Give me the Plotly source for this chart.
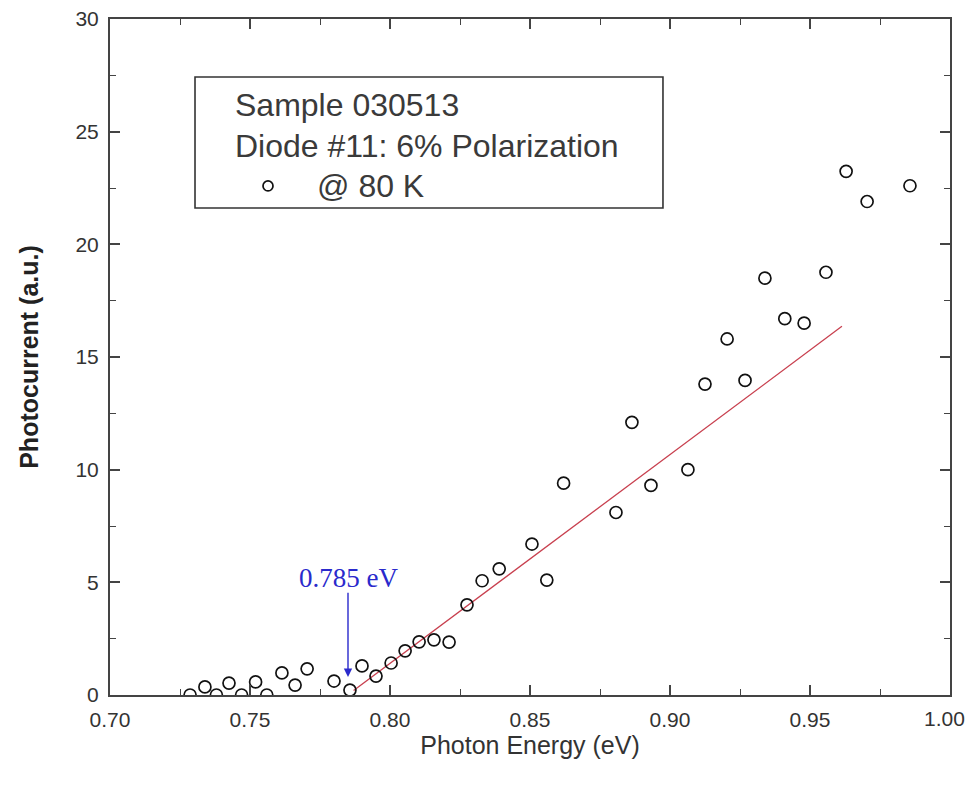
import plotly.graph_objects as go

# Measured data (photon energy in eV, photocurrent in a.u.)
energy = [0.7286, 0.7339, 0.7380, 0.7425, 0.7470, 0.7520, 0.7560, 0.7614, 0.7661,
          0.7704, 0.7800, 0.7857, 0.7900, 0.7950, 0.8004, 0.8054, 0.8104, 0.8157,
          0.8211, 0.8275, 0.8329, 0.8390, 0.8507, 0.8560, 0.8620, 0.8807, 0.8864,
          0.8932, 0.9064, 0.9125, 0.9204, 0.9268, 0.9339, 0.9410, 0.9479, 0.9557,
          0.9629, 0.9704, 0.9857]
photocurrent = [0.0, 0.36, 0.0, 0.53, 0.0, 0.58, 0.0, 0.98, 0.44,
                1.16, 0.62, 0.22, 1.29, 0.84, 1.42, 1.96, 2.36, 2.45,
                2.35, 4.0, 5.07, 5.6, 6.7, 5.1, 9.4, 8.1, 12.1,
                9.3, 10.0, 13.8, 15.8, 13.96, 18.5, 16.7, 16.5, 18.76,
                23.24, 21.9, 22.6]

# Linear fit line
fit_x = [0.787, 0.9614]
fit_y = [0.2, 16.36]

# Onset annotation
onset_energy = 0.785
onset_label = "0.785 eV"

legend_lines = ["Sample 030513", "Diode #11: 6% Polarization", "@ 80 K"]

x_ticks = [0.70, 0.75, 0.80, 0.85, 0.90, 0.95, 1.00]
y_ticks = [0, 5, 10, 15, 20, 25, 30]

SANS = "Liberation Sans, Arial, sans-serif"

fig = go.Figure()
fig.add_trace(go.Scatter(
    x=fit_x, y=fit_y, mode="lines",
    line=dict(color="#c8404f", width=1.3), showlegend=False, hoverinfo="skip"))
fig.add_trace(go.Scatter(
    x=energy, y=photocurrent, mode="markers", name=legend_lines[2],
    marker=dict(symbol="circle-open", size=12, color="#111111", line=dict(width=1.7)),
    showlegend=False))

axis_font = dict(family=SANS, size=21, color="#333333")
common = dict(
    showgrid=False, zeroline=False, showline=True, linecolor="#444444", linewidth=2,
    ticks="inside", ticklen=10, tickwidth=1.5, tickcolor="#444444", mirror="ticks",
    tickfont=axis_font, ticklabelstandoff=5, automargin=False, ticklabeloverflow="allow",
)

# The last x label sits at the page edge; draw it as an annotation pulled in slightly
x_ticktext = [f"{v:.2f}" for v in x_ticks[:-1]] + [""]

fig.update_xaxes(
    range=[0.70, 1.00], tickvals=x_ticks, ticktext=x_ticktext,
    minor=dict(ticks="inside", ticklen=6, tickwidth=1.2, tickcolor="#444444", dtick=0.025, tick0=0.70),
    title=dict(text="Photon Energy (eV)", standoff=5,
               font=dict(family=SANS, size=25, color="#333333")),
    **common)
fig.update_yaxes(
    range=[0, 30], tickvals=y_ticks, ticktext=[str(v) for v in y_ticks],
    minor=dict(ticks="inside", ticklen=6, tickwidth=1.2, tickcolor="#444444", dtick=2.5, tick0=0),
    title=dict(text="<b>Photocurrent (a.u.)</b>", standoff=30,
               font=dict(family=SANS, size=25, color="#222222")),
    **common)

fig.add_annotation(xref="paper", yref="paper", x=1.0, y=0, xshift=17, yshift=-23,
                   text=f"{x_ticks[-1]:.2f}", showarrow=False,
                   xanchor="right", yanchor="middle", font=axis_font)

# Legend-like box
fig.add_shape(type="rect", xref="paper", yref="paper",
              x0=0.1012, x1=0.6583, y0=0.7204, y1=0.9142,
              line=dict(color="#333333", width=1.6), fillcolor="rgba(0,0,0,0)")
leg_font = dict(family=SANS, size=32, color="#3a3a3a")
fig.add_annotation(xref="paper", yref="paper", x=0.1464, y=0.8728, text=legend_lines[0],
                   showarrow=False, xanchor="left", yanchor="middle", font=leg_font)
fig.add_annotation(xref="paper", yref="paper", x=0.1464, y=0.8121, text=legend_lines[1],
                   showarrow=False, xanchor="left", yanchor="middle", font=leg_font)
fig.add_annotation(xref="paper", yref="paper", x=0.2440, y=0.7530, text=legend_lines[2],
                   showarrow=False, xanchor="left", yanchor="middle", font=leg_font)
fig.add_shape(type="circle", xref="paper", yref="paper",
              xsizemode="pixel", ysizemode="pixel", xanchor=0.1881, yanchor=0.7530,
              x0=-5, x1=5, y0=-5, y1=5,
              line=dict(color="#111111", width=1.7))

# Onset arrow and label
fig.add_annotation(x=onset_energy, y=0.8, ax=onset_energy, ay=4.6, xref="x", yref="y",
                   axref="x", ayref="y", text="", showarrow=True,
                   arrowhead=2, arrowsize=1.2, arrowwidth=1.4, arrowcolor="#2a2acc")
fig.add_annotation(x=onset_energy, y=5.2, xref="x", yref="y", text=onset_label,
                   showarrow=False, xanchor="center", yanchor="middle",
                   font=dict(family="Liberation Serif, Times New Roman, serif", size=27, color="#2a2acc"))

fig.update_layout(
    width=959, height=770,
    margin=dict(l=102, r=17, t=11, b=83, autoexpand=False),
    plot_bgcolor="white", paper_bgcolor="white",
    showlegend=False,
)

fig.write_html("out.html")
